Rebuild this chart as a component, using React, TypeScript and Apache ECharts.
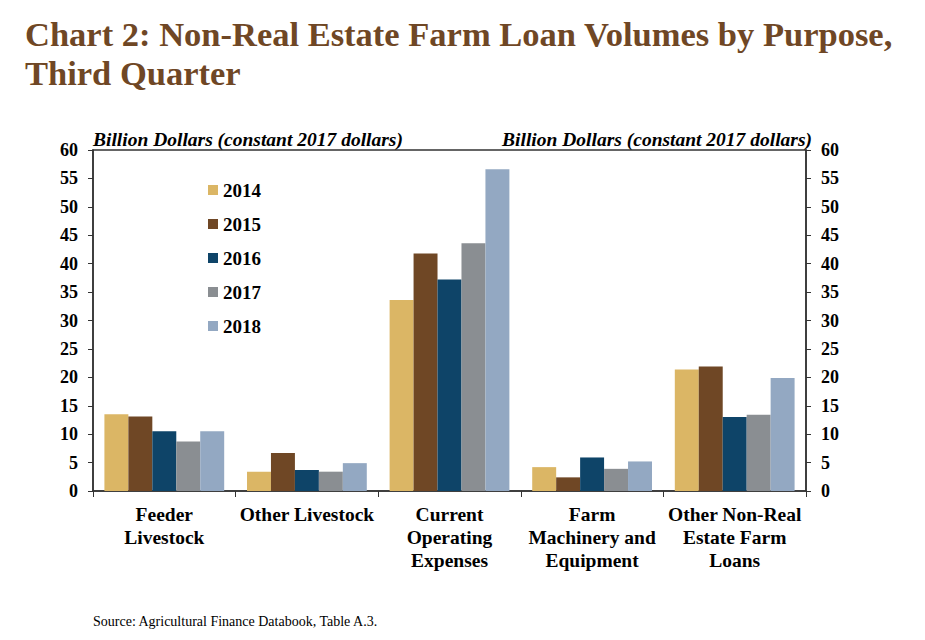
import React, { useEffect, useRef } from "react";
import * as echarts from "echarts";

const categories = [
  "Feeder\nLivestock",
  "Other Livestock",
  "Current\nOperating\nExpenses",
  "Farm\nMachinery and\nEquipment",
  "Other Non-Real\nEstate Farm\nLoans",
];
const years = ["2014", "2015", "2016", "2017", "2018"];
const v2014 = [13.5, 3.4, 33.6, 4.2, 21.4];
const v2015 = [13.1, 6.7, 41.8, 2.4, 21.9];
const v2016 = [10.5, 3.7, 37.2, 5.9, 13.0];
const v2017 = [8.7, 3.4, 43.6, 3.9, 13.4];
const v2018 = [10.5, 4.9, 56.6, 5.2, 19.9];
const seriesValues = [v2014, v2015, v2016, v2017, v2018];
const colors = ["#DBB665", "#6F4725", "#0E4468", "#8A8E92", "#93A8C2"];
const axisTitle = "Billion Dollars (constant 2017 dollars)";

const FONT = "'Liberation Serif', 'Times New Roman', serif";

export default function App() {
  const ref = useRef<HTMLDivElement>(null);
  useEffect(() => {
    if (!ref.current) return;
    const chart = echarts.init(ref.current, null, { renderer: "svg" });
    const yAxisCommon = {
      type: "value",
      min: 0,
      max: 60,
      interval: 5,
      nameLocation: "end",
      nameGap: 1,
      axisLine: { show: true, lineStyle: { color: "#333", width: 1.5 } },
      axisTick: { show: true, inside: false, length: 5, lineStyle: { color: "#333" } },
      splitLine: { show: false },
      axisLabel: {
        color: "#000",
        fontFamily: FONT,
        fontWeight: "bold",
        fontSize: 18,
        margin: 15,
      },
    };
    const nameStyle = {
      color: "#000",
      fontFamily: FONT,
      fontWeight: "bold",
      fontStyle: "italic",
      fontSize: 19.5,
    };
    chart.setOption({
      animation: false,
      textStyle: { fontFamily: FONT },
      title: {
        text: "Chart 2: Non-Real Estate Farm Loan Volumes by Purpose,\nThird Quarter",
        left: 20,
        top: 9,
        textStyle: {
          color: "#6F4725",
          fontFamily: FONT,
          fontWeight: "bold",
          fontSize: 34.5,
          lineHeight: 39,
        },
      },
      legend: {
        orient: "vertical",
        left: 203,
        top: 175,
        itemWidth: 10,
        itemHeight: 10,
        itemGap: 14,
        icon: "rect",
        data: years,
        textStyle: {
          color: "#000",
          fontFamily: FONT,
          fontWeight: "bold",
          fontSize: 19,
          lineHeight: 20,
        },
      },
      grid: {
        left: 93,
        right: 119,
        top: 150,
        bottom: 149,
        show: true,
        borderColor: "#333",
        borderWidth: 1.5,
      },
      xAxis: {
        type: "category",
        data: categories,
        axisLine: { show: true, lineStyle: { color: "#333", width: 1.5 } },
        axisTick: { show: true, length: 6, lineStyle: { color: "#333" } },
        axisLabel: {
          color: "#000",
          fontFamily: FONT,
          fontWeight: "bold",
          fontSize: 19.5,
          lineHeight: 23,
          margin: 12,
          interval: 0,
        },
      },
      yAxis: [
        {
          ...yAxisCommon,
          position: "left",
          name: axisTitle,
          nameTextStyle: { ...nameStyle, align: "left" },
        },
        {
          ...yAxisCommon,
          position: "right",
          name: axisTitle,
          nameTextStyle: { ...nameStyle, align: "right", padding: [0, -6, 0, 0] },
        },
      ],
      series: years.map((y, i) => ({
        name: y,
        type: "bar",
        yAxisIndex: 0,
        data: seriesValues[i],
        barGap: "0%",
        barCategoryGap: "16%",
        itemStyle: { color: colors[i] },
      })),
      graphic: [
        {
          type: "text",
          left: 93,
          top: 614,
          style: {
            text: "Source: Agricultural Finance Databook, Table A.3.",
            fill: "#000",
            font: `14px ${FONT}`,
          },
        },
      ],
    });
    return () => chart.dispose();
  }, []);
  return (
    <div
      ref={ref}
      style={{ position: "absolute", left: 0, top: 0, width: 925, height: 640 }}
    />
  );
}
